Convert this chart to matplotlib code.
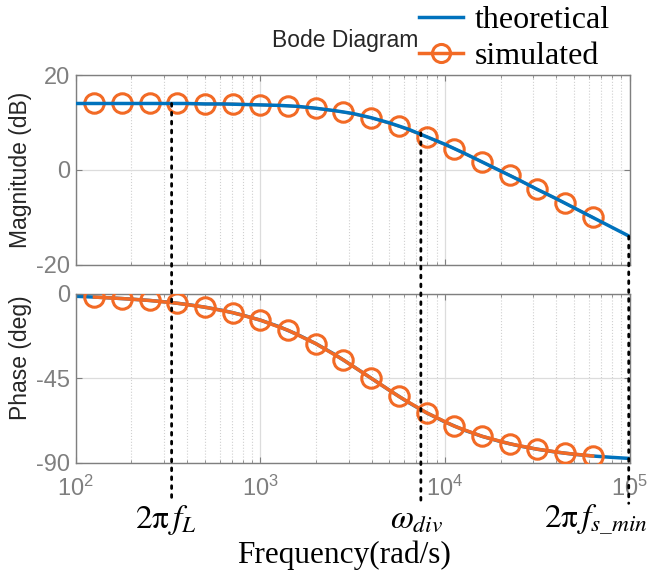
import matplotlib
matplotlib.use("Agg")
import matplotlib.pyplot as plt
from matplotlib.patches import ConnectionPatch

plt.rcParams["font.family"] = ["Liberation Sans", "DejaVu Sans"]
plt.rcParams["mathtext.fontset"] = "stix"
plt.rcParams["axes.unicode_minus"] = False

# theoretical curve, read at 0.1-decade steps
w_theory = [100, 126, 158, 200, 251, 316, 398, 501, 631, 794,
            1000, 1259, 1585, 1995, 2512, 3162, 3981, 5012, 6310, 7943,
            10000, 12589, 15849, 19953, 25119, 31623, 39811, 50119, 63096, 79433, 100000]
mag_theory = [14.0, 14.0, 14.0, 14.0, 14.0, 14.0, 14.0, 13.9, 13.9, 13.8,
              13.7, 13.6, 13.4, 13.0, 12.5, 11.9, 11.0, 9.9, 8.6, 7.0,
              5.4, 3.6, 1.7, -0.2, -2.1, -4.1, -6.0, -8.0, -10.0, -12.0, -14.0]
phase_theory = [-1.4, -1.8, -2.3, -2.9, -3.6, -4.5, -5.7, -7.2, -9.0, -11.3,
                -14.1, -17.5, -21.7, -26.6, -32.2, -38.5, -45.0, -51.5, -57.8, -63.4,
                -68.3, -72.5, -75.9, -78.7, -81.0, -82.8, -84.3, -85.5, -86.4, -87.1, -87.7]

# simulated points
w_sim = [126, 178, 251, 355, 501, 708, 1000, 1413, 1995, 2818,
         3981, 5623, 7943, 11220, 15849, 22387, 31623, 44668, 63096]
mag_sim = [14.0, 14.0, 14.0, 14.0, 13.9, 13.9, 13.7, 13.5, 13.0, 12.2,
           11.0, 9.2, 7.0, 4.5, 1.7, -1.1, -4.1, -7.0, -10.0]
phase_sim = [-1.8, -2.6, -3.6, -5.1, -7.2, -10.1, -14.1, -19.5, -26.6, -35.3,
             -45.0, -54.7, -63.4, -70.5, -75.9, -79.9, -82.8, -84.9, -86.4]

# marked frequencies and the magnitude where their dotted lines start
w_marks = [330, 7400, 99000]
mag_marks = [14.0, 7.8, -14.0]
mark_labels = [r"$2\mathrm{\pi}\,f_L$", r"$\omega_{div}$", r"$2\mathrm{\pi}\,f_{s\_min}$"]

blue = "#0072BD"
orange = "#F26A25"
gray = "#7f7f7f"

fig = plt.figure(figsize=(6.49, 5.77), dpi=100)
ax1 = fig.add_axes([0.117, 0.541, 0.853, 0.329])
ax2 = fig.add_axes([0.117, 0.198, 0.853, 0.293])

for ax in (ax1, ax2):
    ax.set_xscale("log")
    ax.set_xlim(100, 100000)
    ax.grid(True, which="major", color="#dcdcdc", lw=0.9)
    ax.grid(True, which="minor", axis="x", color="#d0d0d0", lw=0.8, ls=":")
    for s in ax.spines.values():
        s.set_color(gray)
        s.set_linewidth(1.0)
    ax.tick_params(which="both", direction="in", colors=gray, labelsize=17,
                   top=True, right=True, pad=4)
    ax.tick_params(which="major", length=4)
    ax.tick_params(which="minor", length=2)
    ax.set_axisbelow(True)

ax1.plot(w_sim, mag_sim, color=orange, lw=2, marker="o", ms=14, mfc="none",
         mew=2.2, zorder=2)
ax1.plot(w_theory, mag_theory, color=blue, lw=2.5, zorder=3)
ax1.set_ylim(-20, 20)
ax1.set_yticks([-20, 0, 20])
ax1.tick_params(labelbottom=False)
ax1.set_ylabel("Magnitude (dB)", fontsize=16.5, color="#262626")
ax1.yaxis.set_label_coords(-0.08, 0.5)

ax2.plot(w_theory, phase_theory, color=blue, lw=2.5, zorder=2)
ax2.plot(w_sim, phase_sim, color=orange, lw=2.5, marker="o", ms=14, mfc="none",
         mew=2.2, zorder=3)
ax2.set_ylim(-90, 0)
ax2.set_yticks([-90, -45, 0])
ax2.tick_params(axis="x", pad=9)
ax2.set_ylabel("Phase (deg)", fontsize=16.5, color="#262626")
ax2.yaxis.set_label_coords(-0.08, 0.62)

fig.text(0.419, 0.93, "Bode Diagram", fontsize=16.5, color="#262626",
         ha="left", va="center")

# dotted marker lines running across both axes
for w, m in zip(w_marks, mag_marks):
    con = ConnectionPatch(xyA=(w, m), coordsA=ax1.transData,
                          xyB=(w, -0.24), coordsB=ax2.get_xaxis_transform(),
                          color="black", lw=2, ls=(0, (1, 2.2)), zorder=5)
    fig.add_artist(con)

offsets = [(-4, 0), (-3, 0), (14, 0)]
aligns = ["center", "center", "right"]
for w, lab, off, ha in zip(w_marks, mark_labels, offsets, aligns):
    ax2.annotate(lab, xy=(w, -0.385), xycoords=ax2.get_xaxis_transform(),
                 xytext=off, textcoords="offset points", fontsize=24,
                 ha=ha, va="baseline", annotation_clip=False)

fig.text(0.53, 0.038, "Frequency(rad/s)", fontsize=22.5, ha="center", va="center",
         family=["Liberation Serif", "DejaVu Serif"])

h1, = ax1.plot([], [], color=blue, lw=2.5)
h2, = ax1.plot([], [], color=orange, lw=2.5, marker="o", ms=13, mfc="none", mew=2.2)
fig.legend([h1, h2], ["theoretical", "simulated"], loc="upper left",
           bbox_to_anchor=(0.645, 0.99), frameon=False, handlelength=1.4,
           handletextpad=0.35, labelspacing=0.2, borderpad=0, borderaxespad=0,
           prop={"family": ["Liberation Serif"], "size": 23})

fig.savefig("out.png", dpi=100)
